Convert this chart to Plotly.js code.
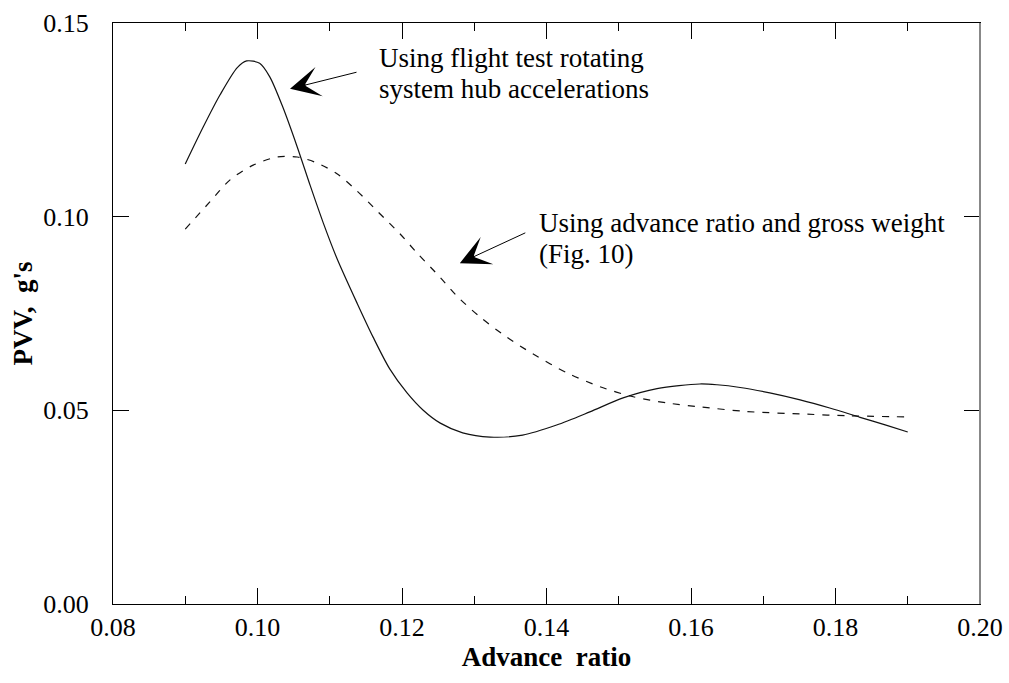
<!DOCTYPE html>
<html>
<head>
<meta charset="utf-8">
<script src="https://cdn.plot.ly/plotly-3.0.1.min.js"></script>
<style>html,body{margin:0;padding:0;background:#fff}#chart{width:1009px;height:683px}</style>
</head>
<body>
<div id="chart"></div>
<script>
// Solid curve: using flight test rotating system hub accelerations
const hubX = [0.0900, 0.0925, 0.0948, 0.0972, 0.0985, 0.1003, 0.1017, 0.1035, 0.1055, 0.1073, 0.1091, 0.1110,
  0.1138, 0.1160, 0.1183, 0.1207, 0.1229, 0.1253, 0.1284, 0.1322, 0.1367, 0.1414, 0.1460, 0.1506, 0.1553,
  0.1612, 0.1636, 0.1668, 0.1709, 0.1751, 0.1792, 0.1834, 0.1871, 0.1900];
const hubY = [0.1136, 0.1232, 0.1314, 0.1385, 0.1402, 0.1396, 0.1361, 0.1283, 0.1180, 0.1080, 0.0984, 0.0892,
  0.0776, 0.0689, 0.0607, 0.0545, 0.0501, 0.0467, 0.0442, 0.0431, 0.0436, 0.0462, 0.0496, 0.0532, 0.0556,
  0.0568, 0.0566, 0.0559, 0.0545, 0.0527, 0.0506, 0.0482, 0.0461, 0.0444];
// Dashed curve: using advance ratio and gross weight (Fig. 10)
const gwX = [0.0900, 0.0934, 0.0962, 0.0994, 0.1027, 0.1055, 0.1082, 0.1110, 0.1138, 0.1167, 0.1197, 0.1221, 0.1253,
  0.1276, 0.1308, 0.1345, 0.1381, 0.1428, 0.1474, 0.1520, 0.1567, 0.1612, 0.1677, 0.1761, 0.1816, 0.1900];
const gwY = [0.0968, 0.1038, 0.1095, 0.1133, 0.1154, 0.1154, 0.1139, 0.1111, 0.1066, 0.1012, 0.0956, 0.0906, 0.0843,
  0.0795, 0.0741, 0.0689, 0.0646, 0.0597, 0.0561, 0.0535, 0.0519, 0.0509, 0.0497, 0.0490, 0.0486, 0.0483];

const xTickVals = [0.08, 0.10, 0.12, 0.14, 0.16, 0.18, 0.20];
const xTickText = ["0.08", "0.10", "0.12", "0.14", "0.16", "0.18", "0.20"];
const yTickVals = [0.00, 0.05, 0.10, 0.15];
const yTickText = ["0.00", "0.05", "0.10", "0.15"];

const serif = "Liberation Serif";

const traces = [
  {x: hubX, y: hubY, type: 'scatter', mode: 'lines', line: {color: '#111', width: 1.2, shape: 'spline', smoothing: 0.8}, hoverinfo: 'skip'},
  {x: gwX, y: gwY, type: 'scatter', mode: 'lines', line: {color: '#111', width: 1.2, dash: '7px,8px', shape: 'spline', smoothing: 0.8}, hoverinfo: 'skip'}
];

const P = (px) => (px - 113) / 867;
const Q = (py) => (604 - py) / 581;

const layout = {
  width: 1009, height: 683,
  margin: {l: 113, r: 29, t: 23, b: 79},
  paper_bgcolor: '#fff', plot_bgcolor: '#fff',
  showlegend: false,
  font: {family: serif, color: '#000', size: 26},
  xaxis: {
    range: [0.08, 0.20], tickvals: xTickVals, ticktext: xTickText,
    ticks: 'inside', ticklen: 16, tickwidth: 1, tickcolor: '#000',
    minor: {dtick: 0.01, tick0: 0.08, ticks: 'inside', ticklen: 8, tickwidth: 1, tickcolor: '#000', showgrid: false},
    showline: true, linecolor: '#000', linewidth: 1, mirror: 'ticks',
    showgrid: false, zeroline: false,
    tickfont: {family: serif, size: 26, color: '#000'},
    title: {text: 'Advance\u00a0\u00a0ratio', font: {family: serif, size: 27, color: '#000', weight: 'bold'}, standoff: 2}
  },
  yaxis: {
    range: [0, 0.15], tickvals: yTickVals, ticktext: yTickText,
    ticks: 'inside', ticklen: 16, tickwidth: 1, tickcolor: '#000',
    showline: true, linecolor: '#000', linewidth: 1, mirror: 'ticks',
    showgrid: false, zeroline: false,
    tickfont: {family: serif, size: 26, color: '#000'},
    ticklabelstandoff: 18,
    title: {text: "PVV,\u00a0\u00a0g's", font: {family: serif, size: 27, color: '#000', weight: 'bold'}, standoff: 2}
  },
  shapes: [
    {type: 'line', xref: 'paper', yref: 'paper', x0: 1, x1: 1, y0: 0, y1: 1, line: {color: '#888', width: 2}}
  ],
  annotations: [
    {xref: 'x', yref: 'y', x: 0.1045, y: 0.1330, ax: 68, ay: -17, text: '', showarrow: true,
     arrowhead: 3, arrowsize: 5, arrowwidth: 1, arrowcolor: '#000'},
    {xref: 'x', yref: 'y', x: 0.1280, y: 0.0880, ax: 67, ay: -31, text: '', showarrow: true,
     arrowhead: 3, arrowsize: 5, arrowwidth: 1, arrowcolor: '#000'},
    {xref: 'paper', yref: 'paper', x: P(377), y: Q(58), xanchor: 'left', yanchor: 'middle', showarrow: false,
     text: 'Using flight test rotating', font: {family: serif, size: 27, color: '#000'}},
    {xref: 'paper', yref: 'paper', x: P(377), y: Q(89), xanchor: 'left', yanchor: 'middle', showarrow: false,
     text: 'system hub accelerations', font: {family: serif, size: 27, color: '#000'}},
    {xref: 'paper', yref: 'paper', x: P(537), y: Q(223), xanchor: 'left', yanchor: 'middle', showarrow: false,
     text: 'Using advance ratio and gross weight', font: {family: serif, size: 27, color: '#000'}},
    {xref: 'paper', yref: 'paper', x: P(537), y: Q(254), xanchor: 'left', yanchor: 'middle', showarrow: false,
     text: '(Fig. 10)', font: {family: serif, size: 27, color: '#000'}}
  ]
};

Plotly.newPlot('chart', traces, layout, {displayModeBar: false, staticPlot: true});
</script>
</body>
</html>
